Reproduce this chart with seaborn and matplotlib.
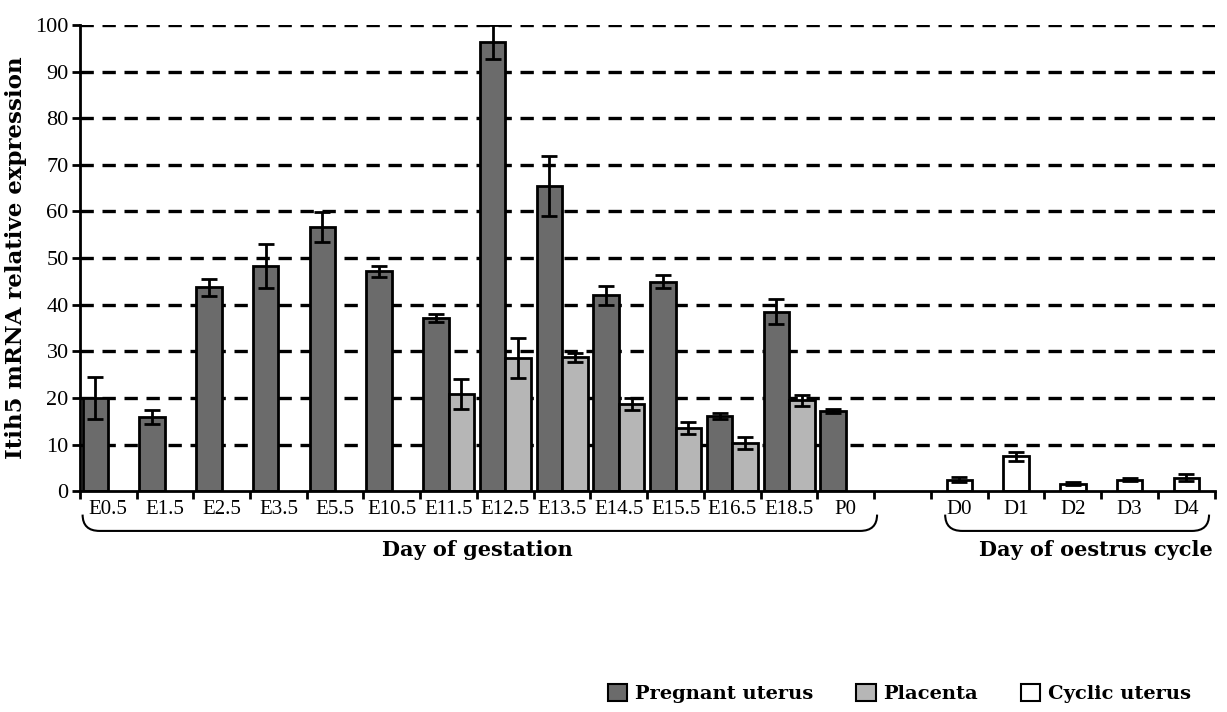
import pandas as pd
import seaborn as sns
import matplotlib.pyplot as plt
from matplotlib.patches import Patch, PathPatch
from matplotlib.path import Path
import matplotlib.transforms as mtransforms

sns.set_style("white")
plt.rcParams['font.family'] = ['Liberation Serif', 'DejaVu Serif']
plt.rcParams.update({"text.color": "black", "axes.labelcolor": "black",
                     "xtick.color": "black", "ytick.color": "black"})
bold_font = ['DejaVu Serif', 'Liberation Serif']

# data
gest_days = ["E0.5", "E1.5", "E2.5", "E3.5", "E5.5", "E10.5", "E11.5",
             "E12.5", "E13.5", "E14.5", "E15.5", "E16.5", "E18.5", "P0"]
pregnant = [20.0, 16.0, 43.7, 48.3, 56.6, 47.2, 37.1,
            96.3, 65.4, 42.0, 44.9, 16.2, 38.5, 17.2]
pregnant_err = [4.5, 1.5, 1.9, 4.8, 3.2, 1.2, 0.9,
                3.6, 6.4, 2.1, 1.4, 0.6, 2.7, 0.4]

plac_days = ["E11.5", "E12.5", "E13.5", "E14.5", "E15.5", "E16.5", "E18.5"]
placenta = [20.8, 28.5, 28.7, 18.7, 13.5, 10.3, 19.5]
placenta_err = [3.2, 4.3, 0.9, 1.2, 1.3, 1.3, 1.2]

cycle_days = ["D0", "D1", "D2", "D3", "D4"]
cyclic = [2.5, 7.5, 1.6, 2.5, 2.9]
cyclic_err = [0.6, 0.9, 0.3, 0.3, 0.7]

tissues = ["Pregnant uterus", "Placenta"]
colors = {"Pregnant uterus": "#6b6b6b", "Placenta": "#b6b6b6"}

order = gest_days + [" "] + cycle_days

gest = pd.concat([
    pd.DataFrame({"day": gest_days, "tissue": tissues[0], "value": pregnant, "err": pregnant_err}),
    pd.DataFrame({"day": plac_days, "tissue": tissues[1], "value": placenta, "err": placenta_err}),
])
cyc = pd.DataFrame({"day": cycle_days, "value": cyclic, "err": cyclic_err})

fig = plt.figure(figsize=(12.27, 7.12), dpi=100)
ax = fig.add_axes([0.065, 0.31, 0.925, 0.655])

ax.yaxis.grid(True, color="black", linestyle=(0, (4, 2.6)), linewidth=2.4)
ax.set_axisbelow(True)

sns.barplot(data=gest, x="day", y="value", hue="tissue", hue_order=tissues,
            order=order, palette=colors, width=0.9, gap=0, errorbar=None,
            edgecolor="black", linewidth=2, saturation=1, legend=False, ax=ax)
sns.barplot(data=cyc, x="day", y="value", order=order, color="white",
            width=0.45, errorbar=None, edgecolor="black", linewidth=2,
            saturation=1, ax=ax)

# error bars
off = {tissues[0]: -0.225, tissues[1]: 0.225}
for _, r in gest.iterrows():
    ax.errorbar(order.index(r["day"]) + off[r["tissue"]], r["value"], yerr=r["err"],
                fmt="none", ecolor="black", elinewidth=2, capsize=6, capthick=2, zorder=5)
for _, r in cyc.iterrows():
    ax.errorbar(order.index(r["day"]), r["value"], yerr=r["err"],
                fmt="none", ecolor="black", elinewidth=2, capsize=6, capthick=2, zorder=5)

ax.set_ylim(0, 100)
ax.set_xlim(-0.5, len(order) - 0.5)
ax.set_yticks(range(0, 101, 10))
ax.get_ygridlines()[0].set_visible(False)
ax.tick_params(axis="y", labelsize=16, length=6, width=2, direction="out", pad=2, left=True)
ax.set_xticks(range(len(order)))
ax.set_xticklabels([d.strip() for d in order], fontsize=15)
ax.set_xticks([i - 0.5 for i in range(len(order) + 1)], minor=True)
ax.tick_params(axis="x", which="major", length=0, pad=6)
ax.tick_params(axis="x", which="minor", length=6, width=2, direction="out", bottom=True)
ax.set_xlabel("")
ax.set_ylabel("Itih5 mRNA relative expression", fontsize=16.5, fontweight="bold",
              family=bold_font, labelpad=6)

sns.despine(ax=ax, top=True, right=True)
for s in ["left", "bottom"]:
    ax.spines[s].set_color("black")
    ax.spines[s].set_linewidth(2)
    ax.spines[s].set_zorder(6)

# braces under the two groups
trans = mtransforms.blended_transform_factory(ax.transData, ax.transAxes)


def brace(x0, x1, text, tx):
    y_top, y_bot, r = -0.05, -0.085, 0.3
    verts = [(x0, y_top), (x0, y_bot), (x0 + r, y_bot),
             (x1 - r, y_bot), (x1, y_bot), (x1, y_top)]
    codes = [Path.MOVETO, Path.CURVE3, Path.CURVE3,
             Path.LINETO, Path.CURVE3, Path.CURVE3]
    ax.add_patch(PathPatch(Path(verts, codes), transform=trans, fill=False,
                           edgecolor="black", linewidth=1.5, clip_on=False))
    ax.text(tx, -0.105, text, transform=trans, ha="center", va="top",
            fontsize=15, fontweight="bold", family=bold_font)


brace(-0.45, 13.55, "Day of gestation", 6.5)
brace(14.75, 19.4, "Day of oestrus cycle", 17.4)

handles = [Patch(facecolor=colors[tissues[0]], edgecolor="black", linewidth=1.5, label="Pregnant uterus"),
           Patch(facecolor=colors[tissues[1]], edgecolor="black", linewidth=1.5, label="Placenta"),
           Patch(facecolor="white", edgecolor="black", linewidth=1.5, label="Cyclic uterus")]
fig.legend(handles=handles, loc="lower right", bbox_to_anchor=(0.985, -0.012), ncol=3,
           frameon=False, prop={"size": 14, "weight": "bold", "family": bold_font},
           handlelength=1.0, handleheight=1.0, columnspacing=2.2, handletextpad=0.4)

plt.savefig("out.png", dpi=100)
plt.close()
